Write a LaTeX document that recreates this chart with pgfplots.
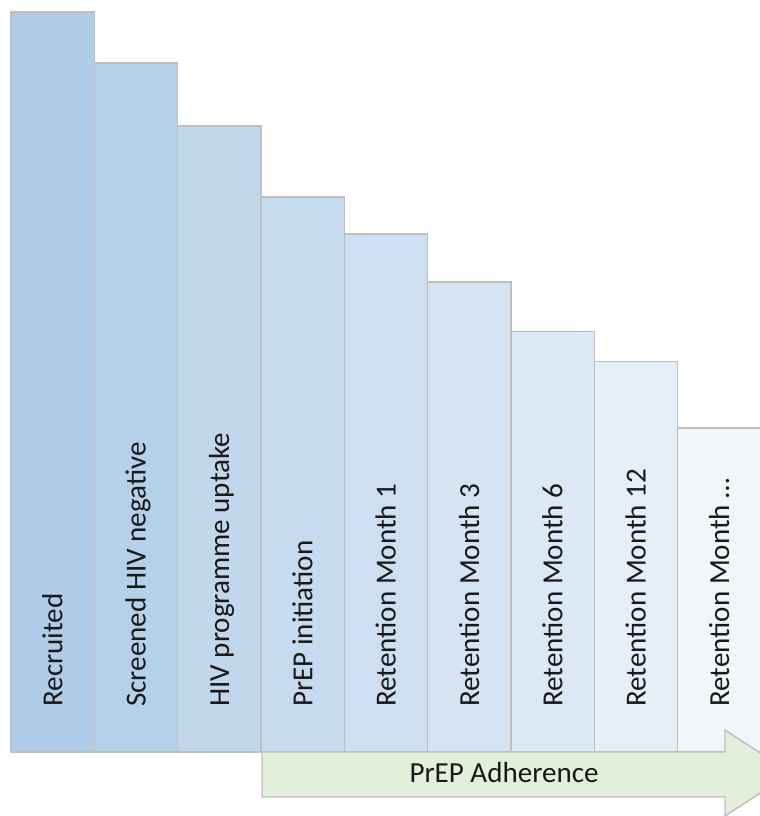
\documentclass[border=0pt]{standalone}
\usepackage{fontspec}
\setmainfont{Carlito}
\usepackage{pgfplots}
\pgfplotsset{compat=1.18}
\definecolor{c1}{HTML}{AFCDE8}
\definecolor{c2}{HTML}{B5D1EA}
\definecolor{c3}{HTML}{C0D7EC}
\definecolor{c4}{HTML}{C6DBEF}
\definecolor{c5}{HTML}{CDDFF1}
\definecolor{c6}{HTML}{D4E4F3}
\definecolor{c7}{HTML}{DCE8F5}
\definecolor{c8}{HTML}{E6EEF8}
\definecolor{c9}{HTML}{F2F6FB}
\definecolor{edgegray}{HTML}{BFBFBF}
\definecolor{arrowgreen}{HTML}{E2EFDA}
\tikzset{barlabel/.style={rotate=90, anchor=base west, inner sep=0pt, font=\fontsize{21.8}{26}\selectfont, text=black!90}}
\begin{document}
\begin{tikzpicture}
\useasboundingbox (-8.25pt,-48pt) rectangle (561pt,564pt);
\begin{axis}[
  at={(0pt,0pt)}, anchor=south west,
  scale only axis, width=562.5pt, height=555pt,
  xmin=-0.5, xmax=8.5, ymin=0, ymax=100,
  hide axis,
  ybar, bar width=1, /pgf/bar shift=0pt,
  every axis plot/.append style={draw=edgegray, line width=1.1pt},
  clip=false,
]
\addplot[fill=c1] coordinates {(0,100)};
\addplot[fill=c2] coordinates {(1,93.1)};
\addplot[fill=c3] coordinates {(2,84.6)};
\addplot[fill=c4] coordinates {(3,75.0)};
\addplot[fill=c5] coordinates {(4,70.0)};
\addplot[fill=c6] coordinates {(5,63.5)};
\addplot[fill=c7] coordinates {(6,56.8)};
\addplot[fill=c8] coordinates {(7,52.8)};
\addplot[fill=c9] coordinates {(8,43.8)};
\node[barlabel] at ([xshift=7.3pt, yshift=33.75pt]axis cs:0,0) {Recruited};
\node[barlabel] at ([xshift=7.3pt, yshift=33.75pt]axis cs:1,0) {Screened HIV negative};
\node[barlabel] at ([xshift=7.3pt, yshift=33.75pt]axis cs:2,0) {HIV programme uptake};
\node[barlabel] at ([xshift=7.3pt, yshift=33.75pt]axis cs:3,0) {PrEP initiation};
\node[barlabel] at ([xshift=7.3pt, yshift=33.75pt]axis cs:4,0) {Retention Month 1};
\node[barlabel] at ([xshift=7.3pt, yshift=33.75pt]axis cs:5,0) {Retention Month 3};
\node[barlabel] at ([xshift=7.3pt, yshift=33.75pt]axis cs:6,0) {Retention Month 6};
\node[barlabel] at ([xshift=7.3pt, yshift=33.75pt]axis cs:7,0) {Retention Month 12};
\node[barlabel] at ([xshift=7.3pt, yshift=33.75pt]axis cs:8,0) {Retention Month \dots};
\end{axis}
\draw[fill=arrowgreen, draw=edgegray, line width=1.1pt]
  (188.25pt,0pt) -- (535.5pt,0pt) -- (535.5pt,16.5pt) -- (585pt,-15.75pt)
  -- (535.5pt,-48pt) -- (535.5pt,-33.75pt) -- (188.25pt,-33.75pt) -- cycle;
\node[anchor=base, inner sep=0pt, font=\fontsize{21.8}{26}\selectfont, text=black!90]
  at (369.75pt,-23.25pt) {PrEP Adherence};
\end{tikzpicture}
\end{document}
